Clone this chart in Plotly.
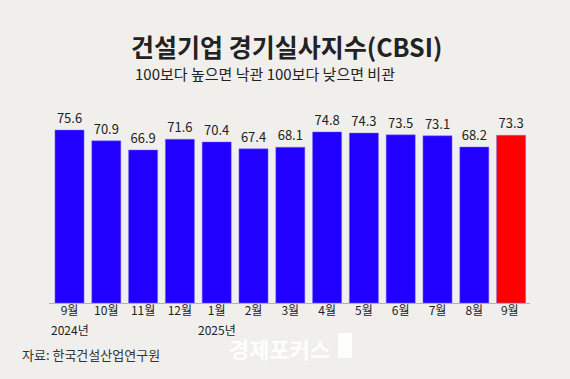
import plotly.graph_objects as go

months = ["9월", "10월", "11월", "12월", "1월", "2월", "3월", "4월", "5월", "6월", "7월", "8월", "9월 "]
years = {0: "2024년", 4: "2025년"}
values = [75.6, 70.9, 66.9, 71.6, 70.4, 67.4, 68.1, 74.8, 74.3, 73.5, 73.1, 68.2, 73.3]
colors = ["#2200FF"] * 12 + ["#FF0000"]

FONT = "Noto Sans CJK KR"

fig = go.Figure(go.Bar(
    x=months, y=values,
    marker=dict(color=colors, line=dict(color="rgba(120,110,255,0.6)", width=0.8)),
    text=[f"{v:.1f}" for v in values],
    textposition="outside",
    textfont=dict(family=FONT, size=13, color="#222222"),
    cliponaxis=False,
    hoverinfo="skip",
))

W, H = 570, 379
x0, x1 = 48.5, 529.5
y_base, y_top = 303, 120
fig.update_layout(
    width=W, height=H,
    margin=dict(l=0, r=0, t=0, b=0),
    paper_bgcolor="#F0EFEC", plot_bgcolor="#F0EFEC",
    bargap=0.21,
    showlegend=False,
    xaxis=dict(domain=[x0 / W, x1 / W], showgrid=False, showline=True,
               linecolor="#B0B0C0", linewidth=1, ticks="", ticklabelstandoff=-3,
               tickfont=dict(family=FONT, size=12, color="#222222"),
               fixedrange=True),
    yaxis=dict(domain=[1 - y_base / H, 1 - y_top / H], range=[0, 80], visible=False, fixedrange=True),
    font=dict(family=FONT),
)

for i, yr in years.items():
    fig.add_annotation(text=yr, x=months[i], y=1 - 329.5 / H, xref="x", yref="paper",
                       xanchor="center", yanchor="middle", showarrow=False,
                       font=dict(family=FONT, size=12, color="#222222"))

fig.add_annotation(text="<b>건설기업 경기실사지수(CBSI)</b>", x=286 / W, y=1 - 46 / H,
                   xanchor="center", yanchor="middle",
                   xref="paper", yref="paper", showarrow=False,
                   font=dict(family=FONT, size=25, color="#222222"))
fig.add_annotation(text="100보다 높으면 낙관 100보다 낮으면 비관", x=265 / W, y=1 - 74 / H,
                   xanchor="center", yanchor="middle",
                   xref="paper", yref="paper", showarrow=False,
                   font=dict(family=FONT, size=15, color="#222222"))
fig.add_annotation(text="자료: 한국건설산업연구원", x=20 / W, y=1 - 354 / H,
                   xanchor="left", yanchor="middle",
                   xref="paper", yref="paper", showarrow=False,
                   font=dict(family=FONT, size=13, color="#333333"))
fig.add_annotation(text="<b>경제포커스</b>", x=279 / W, y=1 - 348 / H,
                   xanchor="center", yanchor="middle",
                   xref="paper", yref="paper", showarrow=False,
                   font=dict(family=FONT, size=22, color="rgba(255,255,255,0.95)"))
fig.add_shape(type="rect", xref="paper", yref="paper",
              x0=338 / W, x1=352 / W, y0=1 - 358 / H, y1=1 - 333 / H,
              fillcolor="rgba(255,255,255,0.9)", line=dict(width=0))

fig.write_html("out.html", config={"displayModeBar": False},
               post_script="document.body.style.margin='0';document.body.style.overflow='hidden';")
